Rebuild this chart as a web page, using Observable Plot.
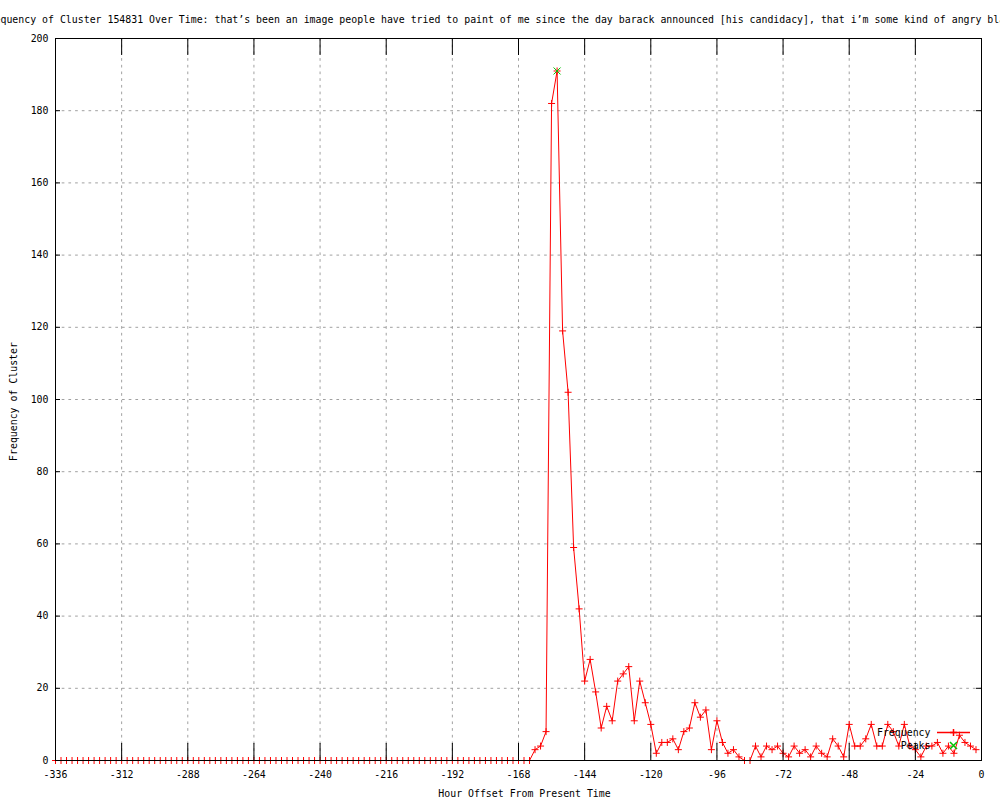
<!DOCTYPE html>
<html><head><meta charset="utf-8">
<script src="https://cdn.jsdelivr.net/npm/d3@7"></script>
<script src="https://cdn.jsdelivr.net/npm/@observablehq/plot@0.6"></script>
<style>
html,body{margin:0;padding:0;background:#fff;}
</style></head><body><div id="chart"></div>
<script>
const titleText = "Frequency of Cluster 154831 Over Time: that\u2019s been an image people have tried to paint of me since the day barack announced [his candidacy], that i\u2019m some kind of angry black woman";
const xLabel = "Hour Offset From Present Time";
const yLabel = "Frequency of Cluster";
const seriesNames = ["Frequency", "Peaks"];

const hours = [-336,-334,-332,-330,-328,-326,-324,-322,-320,-318,-316,-314,-312,-310,-308,-306,-304,-302,-300,-298,
-296,-294,-292,-290,-288,-286,-284,-282,-280,-278,-276,-274,-272,-270,-268,-266,-264,-262,-260,-258,
-256,-254,-252,-250,-248,-246,-244,-242,-240,-238,-236,-234,-232,-230,-228,-226,-224,-222,-220,-218,
-216,-214,-212,-210,-208,-206,-204,-202,-200,-198,-196,-194,-192,-190,-188,-186,-184,-182,-180,-178,
-176,-174,-172,-170,-168,-166,-164,-162,-160,-158,-156,-154,-152,-150,-148,-146,-144,-142,-140,-138,
-136,-134,-132,-130,-128,-126,-124,-122,-120,-118,-116,-114,-112,-110,-108,-106,-104,-102,-100,-98,
-96,-94,-92,-90,-88,-86,-84,-82,-80,-78,-76,-74,-72,-70,-68,-66,-64,-62,-60,-58,
-56,-54,-52,-50,-48,-46,-44,-42,-40,-38,-36,-34,-32,-30,-28,-26,-24,-22,-20,-18,
-16,-14,-12,-10,-8,-6,-4,-2];

const frequency = [0,0,0,0,0,0,0,0,0,0,0,0,0,0,0,0,0,0,0,0,
0,0,0,0,0,0,0,0,0,0,0,0,0,0,0,0,0,0,0,0,
0,0,0,0,0,0,0,0,0,0,0,0,0,0,0,0,0,0,0,0,
0,0,0,0,0,0,0,0,0,0,0,0,0,0,0,0,0,0,0,0,
0,0,0,0,0,0,0,3,4,8,182,191,119,102,59,42,22,28,19,9,
15,11,22,24,26,11,22,16,10,2,5,5,6,3,8,9,16,12,14,3,
11,5,2,3,1,0,0,4,1,4,3,4,2,1,4,2,3,1,4,2,
1,6,4,1,10,4,4,6,10,4,4,10,8,4,10,4,3,1,4,4,
5,2,4,2,7,5,4,3];

const peakHours = [-154];
const peakValues = [191];

const xTicks = [-336,-312,-288,-264,-240,-216,-192,-168,-144,-120,-96,-72,-48,-24,0];
const yTicks = [0,20,40,60,80,100,120,140,160,180,200];

const data = hours.map((h, i) => ({hour: h, freq: frequency[i]}));
const peaks = peakHours.map((h, i) => ({hour: h, freq: peakValues[i]}));

const A = 3.5;
const plusSym = {draw(c){ c.moveTo(-A,0); c.lineTo(A,0); c.moveTo(0,-A); c.lineTo(0,A); }};
const timesSym = {draw(c){ c.moveTo(-A,-A); c.lineTo(A,A); c.moveTo(-A,A); c.lineTo(A,-A); }};
const lineSym = {draw(c){ c.moveTo(-16.5,0); c.lineTo(16.5,0); }};

const mL = 55, mR = 19, mT = 38, mB = 40;
const fw = 1000 - mL - mR, fh = 800 - mT - mB;
const grid = {stroke: "#a0a0a0", strokeOpacity: 1, strokeDasharray: "2.7,4", strokeWidth: 1};
const FS = 9.9;

const chart = Plot.plot({
  width: 1000, height: 800,
  marginLeft: mL, marginRight: mR, marginTop: mT, marginBottom: mB,
  style: {fontFamily: '"DejaVu Sans Mono", monospace', fontSize: FS + "px", background: "white", color: "black"},
  x: {domain: [-336, 0]},
  y: {domain: [0, 200]},
  marks: [
    Plot.gridX(xTicks.slice(1, -1), grid),
    Plot.gridY(yTicks.slice(1, -1), grid),
    Plot.axisX({ticks: xTicks, tickSize: 0, tickPadding: 10, tickFormat: d => String(d), label: null}),
    Plot.axisY({ticks: yTicks, tickSize: 0, tickPadding: 7, tickFormat: d => String(d), label: null}),
    Plot.line(data, {x: "hour", y: "freq", stroke: "red", strokeWidth: 1}),
    Plot.dot(data, {x: "hour", y: "freq", symbol: plusSym, fill: "none", stroke: "red", strokeWidth: 1}),
    Plot.dot(peaks, {x: "hour", y: "freq", symbol: timesSym, fill: "none", stroke: "#00c000", strokeWidth: 1}),
    Plot.tickX(xTicks, {x: d => d, insetTop: fh - 17, stroke: "black"}),
    Plot.tickX(xTicks, {x: d => d, insetBottom: fh - 17, stroke: "black"}),
    Plot.tickY(yTicks, {y: d => d, insetRight: fw - 5, stroke: "black"}),
    Plot.tickY(yTicks, {y: d => d, insetLeft: fw - 5, stroke: "black"}),
    Plot.frame({stroke: "black"}),
    // legend
    Plot.text([seriesNames[0]], {text: d => d, frameAnchor: "bottom-right", dx: -51, dy: -28, textAnchor: "end", lineAnchor: "middle", fill: "black"}),
    Plot.text([seriesNames[1]], {text: d => d, frameAnchor: "bottom-right", dx: -51, dy: -15, textAnchor: "end", lineAnchor: "middle", fill: "black"}),
    Plot.dot([0], {frameAnchor: "bottom-right", dx: -28, dy: -28, symbol: lineSym, fill: "none", stroke: "red"}),
    Plot.dot([0], {frameAnchor: "bottom-right", dx: -28, dy: -28, symbol: plusSym, fill: "none", stroke: "red"}),
    Plot.dot([0], {frameAnchor: "bottom-right", dx: -28, dy: -15, symbol: timesSym, fill: "none", stroke: "#00c000"}),
    // title and axis labels
    Plot.text([titleText], {text: d => d, frameAnchor: "top-left", dx: -mL - 3 * FS * 0.602, dy: -19, textAnchor: "start", lineAnchor: "middle", fill: "black"}),
    Plot.text([xLabel], {text: d => d, frameAnchor: "bottom", dx: 6, dy: 33, textAnchor: "middle", lineAnchor: "middle", fill: "black"}),
    Plot.text([yLabel], {text: d => d, frameAnchor: "left", dx: -42, dy: 2, rotate: -90, textAnchor: "middle", lineAnchor: "middle", fill: "black"})
  ]
});
document.getElementById("chart").appendChild(chart);
</script>
</body></html>
